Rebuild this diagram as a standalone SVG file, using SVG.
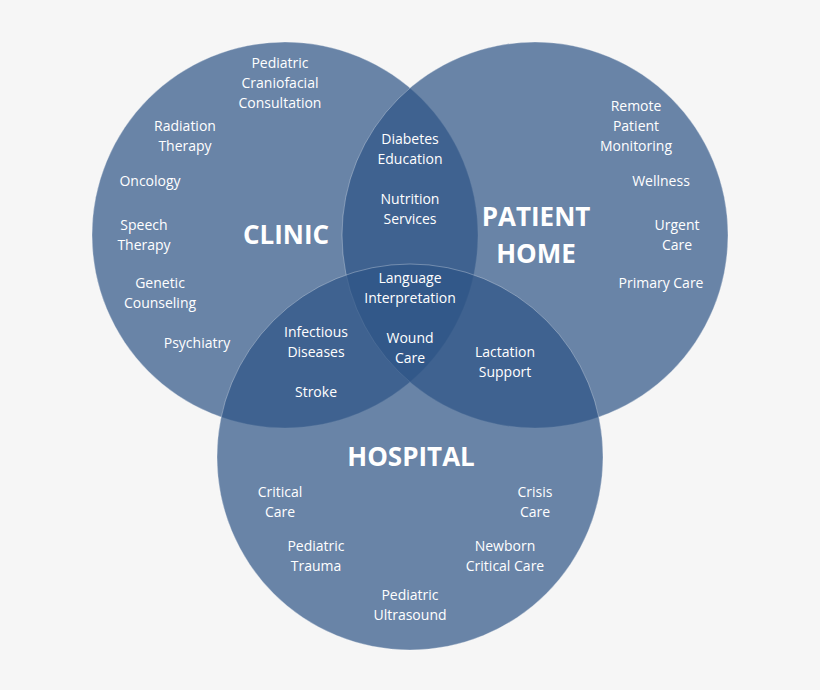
<svg xmlns="http://www.w3.org/2000/svg" width="820" height="690" viewBox="0 0 820 690">
<style>
.c{fill:#2e5486;fill-opacity:0.7;stroke:#ffffff;stroke-opacity:0.3;stroke-width:1}
text{font-family:"Open Sans","Liberation Sans",sans-serif;fill:#fff;text-anchor:middle}
.t{font-size:14px}
.h{font-size:26px;font-weight:bold}
</style>
<rect width="820" height="690" fill="#f6f6f6"/>
<g id="clinic"><circle class="c" cx="285" cy="235" r="193"/>
<text class="h" x="286" y="244">CLINIC</text>
<text class="t" x="280" y="68">Pediatric</text><text class="t" x="280" y="88">Craniofacial</text><text class="t" x="280" y="108">Consultation</text>
<text class="t" x="185" y="131">Radiation</text><text class="t" x="185" y="151">Therapy</text>
<text class="t" x="150" y="186">Oncology</text>
<text class="t" x="144" y="230">Speech</text><text class="t" x="144" y="250">Therapy</text>
<text class="t" x="160" y="288">Genetic</text><text class="t" x="160" y="308">Counseling</text>
<text class="t" x="197" y="348">Psychiatry</text></g>
<g id="home"><circle class="c" cx="535" cy="235" r="193"/>
<text class="h" x="536" y="226">PATIENT</text><text class="h" x="536" y="263">HOME</text>
<text class="t" x="636" y="111">Remote</text><text class="t" x="636" y="131">Patient</text><text class="t" x="636" y="151">Monitoring</text>
<text class="t" x="661" y="186">Wellness</text>
<text class="t" x="677" y="230">Urgent</text><text class="t" x="677" y="250">Care</text>
<text class="t" x="661" y="288">Primary Care</text></g>
<g id="hospital"><circle class="c" cx="410" cy="457" r="193"/>
<text class="h" x="411" y="466">HOSPITAL</text>
<text class="t" x="280" y="497">Critical</text><text class="t" x="280" y="517">Care</text>
<text class="t" x="535" y="497">Crisis</text><text class="t" x="535" y="517">Care</text>
<text class="t" x="316" y="551">Pediatric</text><text class="t" x="316" y="571">Trauma</text>
<text class="t" x="505" y="551">Newborn</text><text class="t" x="505" y="571">Critical Care</text>
<text class="t" x="410" y="600">Pediatric</text><text class="t" x="410" y="620">Ultrasound</text></g>
<g id="overlaps">
<text class="t" x="410" y="144">Diabetes</text><text class="t" x="410" y="164">Education</text>
<text class="t" x="410" y="204">Nutrition</text><text class="t" x="410" y="224">Services</text>
<text class="t" x="410" y="283">Language</text><text class="t" x="410" y="303">Interpretation</text>
<text class="t" x="410" y="343">Wound</text><text class="t" x="410" y="363">Care</text>
<text class="t" x="316" y="337">Infectious</text><text class="t" x="316" y="357">Diseases</text>
<text class="t" x="316" y="397">Stroke</text>
<text class="t" x="505" y="357">Lactation</text><text class="t" x="505" y="377">Support</text></g>
<g id="connectors"/>
</svg>
